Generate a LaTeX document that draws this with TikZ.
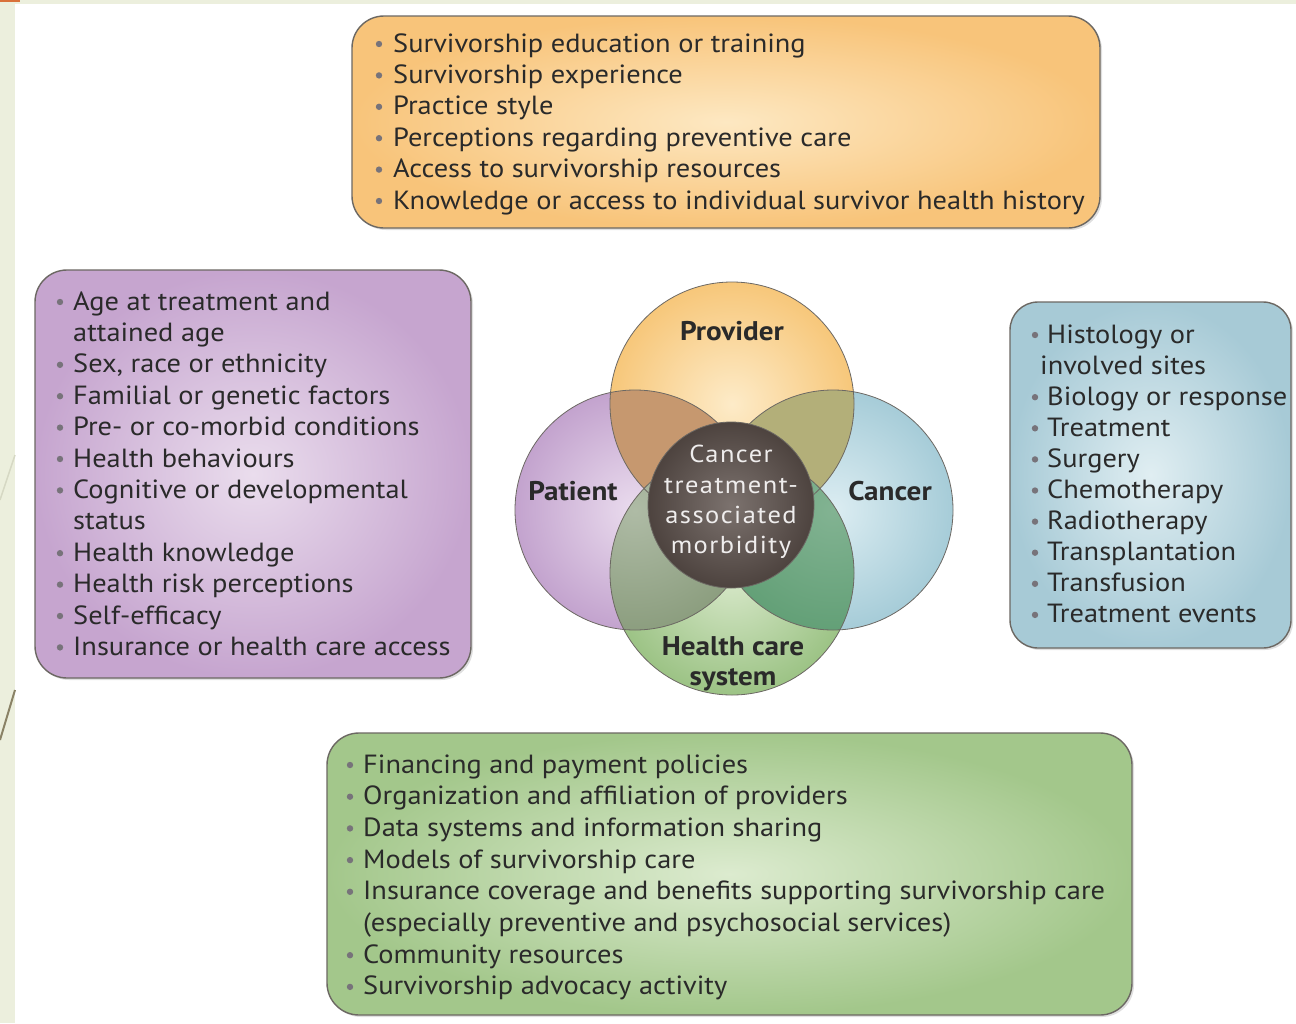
\documentclass[tikz,border=0pt]{standalone}
\usepackage{fontspec}
\setmainfont{PT Sans}[FakeStretch=1.08]
\usetikzlibrary{shadows}

\definecolor{stripbg}{HTML}{ECEFDD}
\definecolor{accent}{HTML}{D9713A}
\definecolor{slash}{HTML}{8A8266}
\definecolor{slashlight}{HTML}{D6D8C4}
\definecolor{ink}{HTML}{2A2A2A}
\definecolor{rim}{HTML}{6C6863}
\definecolor{dotgray}{HTML}{77737A}
% list boxes
\definecolor{provboxout}{HTML}{F8C47A}
\definecolor{provboxin}{HTML}{FDE8C2}
\definecolor{patboxout}{HTML}{C6A5CF}
\definecolor{patboxin}{HTML}{EADDED}
\definecolor{canboxout}{HTML}{A7CAD6}
\definecolor{canboxin}{HTML}{E0EEF2}
\definecolor{hcsboxout}{HTML}{A3C78B}
\definecolor{hcsboxin}{HTML}{DCEBCF}
% venn
\definecolor{provout}{HTML}{F7C77A}
\definecolor{provin}{HTML}{FDEBC8}
\definecolor{patout}{HTML}{C3A3CE}
\definecolor{patin}{HTML}{EADCEE}
\definecolor{canout}{HTML}{A6CCD8}
\definecolor{canin}{HTML}{DCEDF2}
\definecolor{hcsout}{HTML}{9CC385}
\definecolor{hcsin}{HTML}{D9E9CB}
\definecolor{provpat}{HTML}{C6986F}
\definecolor{provcan}{HTML}{B3AF79}
\definecolor{provhcs}{HTML}{9E8E6A}
\definecolor{pathcs}{HTML}{8C9E7F}
\definecolor{canhcs}{HTML}{63A077}
\definecolor{core}{HTML}{5B4F4A}

\tikzset{
  listbox/.style={draw=rim, line width=1.4pt, rounded corners=32pt,
    drop shadow={opacity=0.25, shadow xshift=2pt, shadow yshift=-2pt}},
  item/.style={anchor=base west, inner sep=0pt, text=ink,
    font=\fontsize{26.3}{30}\selectfont},
  venn/.style={draw=rim, line width=0.8pt},
  vennlabel/.style={anchor=base, inner sep=0pt, text=ink,
    font=\fontsize{27}{30}\selectfont\bfseries},
  corelabel/.style={anchor=base, inner sep=0pt, text=white!90!core,
    font=\fontsize{24.5}{30}\selectfont\addfontfeatures{LetterSpace=6}}
}

\begin{document}
\begin{tikzpicture}[x=1pt, y=-1pt]
  \useasboundingbox (0,0) rectangle (1296,1023);
  %\draw[very thin, gray] (0,0) grid[step=100] (1296,1023);

  % slide background
  \fill[white] (0,0) rectangle (1296,1023);
  \fill[stripbg] (0,0) rectangle (15,1023);
  \fill[stripbg] (0,0) rectangle (1296,3.5);
  \fill[accent] (0,0) rectangle (20,1.5);
  \draw[slashlight, line width=1.5pt] (0,500) -- (15,455);
  \draw[slash, line width=2pt] (0,740) -- (15,690);

  % provider factors
  \shade[listbox, inner color=provboxin, outer color=provboxout] (352,16) rectangle (1100,228);
  \foreach \t [count=\i from 0] in {Survivorship education or training,
      Survivorship experience, Practice style,
      Perceptions regarding preventive care,
      Access to survivorship resources,
      Knowledge or access to individual survivor health history} {
    \node[item] (prov-\i) at (393,{52+31.4*\i}) {\t};
    \fill[dotgray] (379,{52+31.4*\i-8}) circle (3.2pt);
  }

  % patient factors
  \shade[listbox, inner color=patboxin, outer color=patboxout] (35,270) rectangle (471,678);
  \foreach \b/\t [count=\i from 0] in {1/{Age at treatment and}, 0/{attained age},
      1/{Sex, race or ethnicity}, 1/{Familial or genetic factors},
      1/{Pre- or co-morbid conditions}, 1/{Health behaviours},
      1/{Cognitive or developmental}, 0/{status}, 1/{Health knowledge},
      1/{Health risk perceptions}, 1/{Self-efficacy},
      1/{Insurance or health care access}} {
    \node[item] (pat-\i) at (73,{310+31.4*\i}) {\t};
    \ifnum\b=1 \fill[dotgray] (60,{310+31.4*\i-8}) circle (3.2pt); \fi
  }

  % cancer factors
  \shade[listbox, rounded corners=28pt, inner color=canboxin, outer color=canboxout] (1010,302) rectangle (1291,648);
  \foreach \b/\t [count=\i from 0] in {1/{Histology or}, 0/{involved sites},
      1/{Biology or response}, 1/{Treatment}, 1/{Surgery}, 1/{Chemotherapy},
      1/{Radiotherapy}, 1/{Transplantation}, 1/{Transfusion},
      1/{Treatment events}} {
    \pgfmathsetmacro\tx{\b==1 ? 1047 : 1040}
    \node[item] (can-\i) at (\tx,{343+31.1*\i}) {\t};
    \ifnum\b=1 \fill[dotgray] (1035,{343+31.1*\i-8}) circle (3.2pt); \fi
  }

  % health care system factors
  \shade[listbox, inner color=hcsboxin, outer color=hcsboxout] (327,733) rectangle (1132,1015);
  \foreach \b/\t [count=\i from 0] in {1/{Financing and payment policies},
      1/{Organization and affiliation of providers},
      1/{Data systems and information sharing},
      1/{Models of survivorship care},
      1/{Insurance coverage and benefits supporting survivorship care},
      0/{(especially preventive and psychosocial services)},
      1/{Community resources}, 1/{Survivorship advocacy activity}} {
    \node[item] (hcs-\i) at (363,{773+31.7*\i}) {\t};
    \ifnum\b=1 \fill[dotgray] (350,{773+31.7*\i-8}) circle (3.2pt); \fi
  }

  % venn diagram
  \coordinate (cprov) at (732,404);
  \coordinate (cpat) at (635,510);
  \coordinate (ccan) at (833,510);
  \coordinate (chcs) at (732,573);
  \coordinate (ccore) at (731,505);
  \shade[inner color=patin, outer color=patout] (cpat) circle (120pt);
  \shade[inner color=canin, outer color=canout] (ccan) circle (120pt);
  \shade[inner color=provin, outer color=provout] (cprov) circle (122pt);
  \shade[inner color=hcsin, outer color=hcsout] (chcs) circle (122pt);
  \begin{scope}
    \clip (cprov) circle (122pt);
    \fill[provpat] (cpat) circle (120pt);
    \fill[provcan] (ccan) circle (120pt);
    \fill[provhcs] (chcs) circle (122pt);
  \end{scope}
  \begin{scope}
    \clip (chcs) circle (122pt);
    \shade[inner color=pathcs!70!white, outer color=pathcs] (cpat) circle (120pt);
    \shade[inner color=canhcs!80!white, outer color=canhcs] (ccan) circle (120pt);
  \end{scope}
  \draw[venn] (cpat) circle (120pt);
  \draw[venn] (ccan) circle (120pt);
  \draw[venn] (cprov) circle (122pt);
  \draw[venn] (chcs) circle (122pt);
  \shade[venn, inner color=core!80!white, outer color=core!85!black] (ccore) circle (83pt);

  \node[vennlabel] (provider) at (732,340) {Provider};
  \node[vennlabel] (patient) at (573,500) {Patient};
  \node[vennlabel] (cancer) at (890,500) {Cancer};
  \node[vennlabel] (health) at (733,655) {Health care};
  \node[vennlabel] (system) at (733,685) {system};
  \node[corelabel] (core-1) at (731,462) {Cancer};
  \node[corelabel] (core-2) at (731,493) {treatment-};
  \node[corelabel] (core-3) at (731,523) {associated};
  \node[corelabel] (core-4) at (731,553) {morbidity};
\end{tikzpicture}
\end{document}
